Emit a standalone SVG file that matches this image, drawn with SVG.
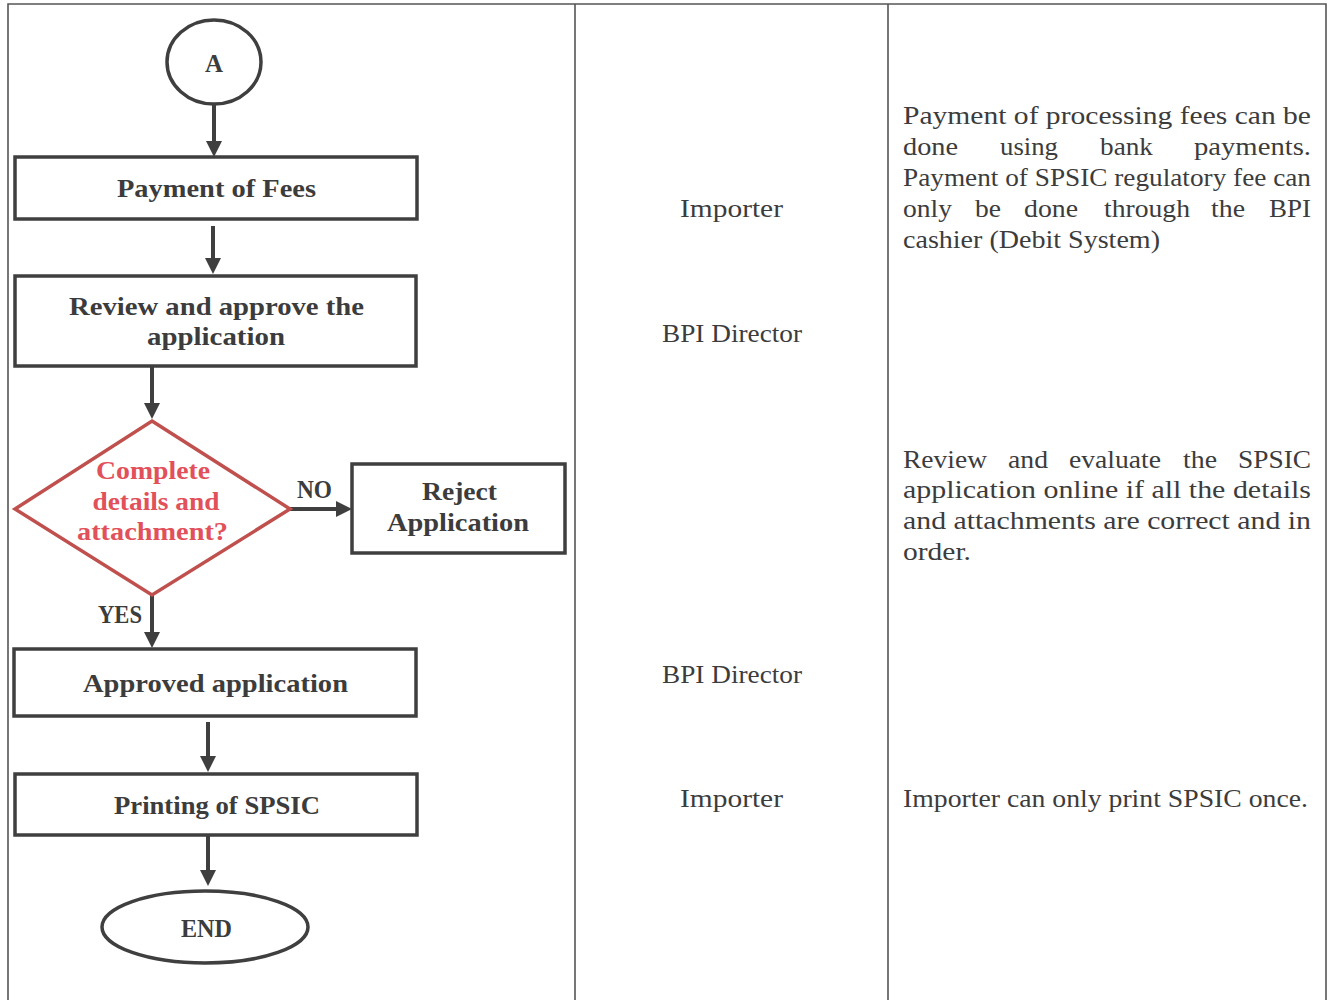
<svg xmlns="http://www.w3.org/2000/svg" width="1332" height="1000" viewBox="0 0 1332 1000">
<defs>
<style>
.bg{fill:#ffffff}
.grid{stroke:#555;stroke-width:1.6;fill:none}
.box{fill:#fff;stroke:#3f3f3f;stroke-width:3.5}
.dia{fill:#fff;stroke:#c0504d;stroke-width:3.5}
.lb{font-family:"Liberation Serif","DejaVu Serif",serif;font-weight:bold;font-size:25px;fill:#3c3c3c;text-anchor:middle}
.lr{font-family:"Liberation Serif","DejaVu Serif",serif;font-weight:bold;font-size:25px;fill:#e2505a;text-anchor:middle}
.t{font-family:"Liberation Serif","DejaVu Serif",serif;font-size:25px;fill:#3c3c3c}
.tm{font-family:"Liberation Serif","DejaVu Serif",serif;font-size:25px;fill:#3c3c3c;text-anchor:middle}
.conn{stroke:#3f3f3f;stroke-width:4;fill:none;marker-end:url(#ah)}
</style>
<marker id="ah" viewBox="0 0 16 16" refX="6" refY="8" markerWidth="16" markerHeight="16" markerUnits="userSpaceOnUse" orient="auto">
<path d="M0,0 L16,8 L0,16 z" fill="#3f3f3f"/>
</marker>
</defs>
<rect class="bg" x="0" y="0" width="1332" height="1000"/>
<g id="table">
<path class="grid" d="M8,1000 V4 H1326 V1000 M575,4 V1000 M888,4 V1000"/>
</g>
<g id="connectors">
<line class="conn" x1="214" y1="105" x2="214" y2="147"/>
<line class="conn" x1="213" y1="226" x2="213" y2="264"/>
<line class="conn" x1="152" y1="366" x2="152" y2="409"/>
<line class="conn" x1="290" y1="509" x2="342" y2="509"/>
<line class="conn" x1="152" y1="595" x2="152" y2="638"/>
<line class="conn" x1="208" y1="722" x2="208" y2="762"/>
<line class="conn" x1="208" y1="836" x2="208" y2="876"/>
<text class="lb" x="314.5" y="498" textLength="35" lengthAdjust="spacingAndGlyphs">NO</text>
<text class="lb" x="120" y="623" textLength="44" lengthAdjust="spacingAndGlyphs">YES</text>
</g>
<g id="nodeA">
<ellipse class="box" cx="214" cy="62" rx="47" ry="42"/>
<text class="lb" x="214" y="72" textLength="18" lengthAdjust="spacingAndGlyphs">A</text>
</g>
<g id="payment">
<rect class="box" x="15" y="157" width="402" height="62"/>
<text class="lb" x="216.5" y="197" textLength="199" lengthAdjust="spacingAndGlyphs">Payment of Fees</text>
</g>
<g id="review">
<rect class="box" x="15" y="276" width="401" height="90"/>
<text class="lb" x="216.5" y="315" textLength="295" lengthAdjust="spacingAndGlyphs">Review and approve the</text>
<text class="lb" x="216" y="345" textLength="138" lengthAdjust="spacingAndGlyphs">application</text>
</g>
<g id="decision">
<polygon class="dia" points="152,421 290,509 152,595 15,509"/>
<text class="lr" x="153" y="479" textLength="114" lengthAdjust="spacingAndGlyphs">Complete</text>
<text class="lr" x="156" y="510" textLength="127" lengthAdjust="spacingAndGlyphs">details and</text>
<text class="lr" x="152.5" y="540" textLength="151" lengthAdjust="spacingAndGlyphs">attachment?</text>
</g>
<g id="reject">
<rect class="box" x="352" y="464" width="213" height="89"/>
<text class="lb" x="459.5" y="500" textLength="75" lengthAdjust="spacingAndGlyphs">Reject</text>
<text class="lb" x="458" y="531" textLength="142" lengthAdjust="spacingAndGlyphs">Application</text>
</g>
<g id="approved">
<rect class="box" x="14" y="649" width="402" height="67"/>
<text class="lb" x="215.5" y="692" textLength="265" lengthAdjust="spacingAndGlyphs">Approved application</text>
</g>
<g id="printing">
<rect class="box" x="15" y="774" width="402" height="61"/>
<text class="lb" x="217" y="814" textLength="206" lengthAdjust="spacingAndGlyphs">Printing of SPSIC</text>
</g>
<g id="end">
<ellipse class="box" cx="205" cy="927" rx="103" ry="36"/>
<text class="lb" x="206.5" y="937" textLength="51" lengthAdjust="spacingAndGlyphs">END</text>
</g>
<g id="actors">
<text class="tm" x="731.5" y="217" textLength="103" lengthAdjust="spacingAndGlyphs">Importer</text>
<text class="tm" x="732" y="342" textLength="140" lengthAdjust="spacingAndGlyphs">BPI Director</text>
<text class="tm" x="732" y="683" textLength="140" lengthAdjust="spacingAndGlyphs">BPI Director</text>
<text class="tm" x="731.5" y="807" textLength="103" lengthAdjust="spacingAndGlyphs">Importer</text>
</g>
<g id="notes">
<text class="t" x="903" y="124" textLength="408" lengthAdjust="spacingAndGlyphs">Payment of processing fees can be</text>
<text class="t" x="903" y="155" textLength="55" lengthAdjust="spacingAndGlyphs">done</text>
<text class="t" x="1000" y="155" textLength="58" lengthAdjust="spacingAndGlyphs">using</text>
<text class="t" x="1100" y="155" textLength="53" lengthAdjust="spacingAndGlyphs">bank</text>
<text class="t" x="1194" y="155" textLength="117" lengthAdjust="spacingAndGlyphs">payments.</text>
<text class="t" x="903" y="186" textLength="408" lengthAdjust="spacingAndGlyphs">Payment of SPSIC regulatory fee can</text>
<text class="t" x="903" y="217" textLength="49" lengthAdjust="spacingAndGlyphs">only</text>
<text class="t" x="975" y="217" textLength="26" lengthAdjust="spacingAndGlyphs">be</text>
<text class="t" x="1024" y="217" textLength="54" lengthAdjust="spacingAndGlyphs">done</text>
<text class="t" x="1104" y="217" textLength="86" lengthAdjust="spacingAndGlyphs">through</text>
<text class="t" x="1211" y="217" textLength="34" lengthAdjust="spacingAndGlyphs">the</text>
<text class="t" x="1269" y="217" textLength="42" lengthAdjust="spacingAndGlyphs">BPI</text>
<text class="t" x="903" y="248" textLength="257" lengthAdjust="spacingAndGlyphs">cashier (Debit System)</text>
<text class="t" x="903" y="468" textLength="84" lengthAdjust="spacingAndGlyphs">Review</text>
<text class="t" x="1008" y="468" textLength="40" lengthAdjust="spacingAndGlyphs">and</text>
<text class="t" x="1069" y="468" textLength="92" lengthAdjust="spacingAndGlyphs">evaluate</text>
<text class="t" x="1183" y="468" textLength="34" lengthAdjust="spacingAndGlyphs">the</text>
<text class="t" x="1238" y="468" textLength="73" lengthAdjust="spacingAndGlyphs">SPSIC</text>
<text class="t" x="903" y="498" textLength="408" lengthAdjust="spacingAndGlyphs">application online if all the details</text>
<text class="t" x="903" y="529" textLength="408" lengthAdjust="spacingAndGlyphs">and attachments are correct and in</text>
<text class="t" x="903" y="560" textLength="68" lengthAdjust="spacingAndGlyphs">order.</text>
<text class="t" x="903" y="807" textLength="405" lengthAdjust="spacingAndGlyphs">Importer can only print SPSIC once.</text>
</g>
</svg>
